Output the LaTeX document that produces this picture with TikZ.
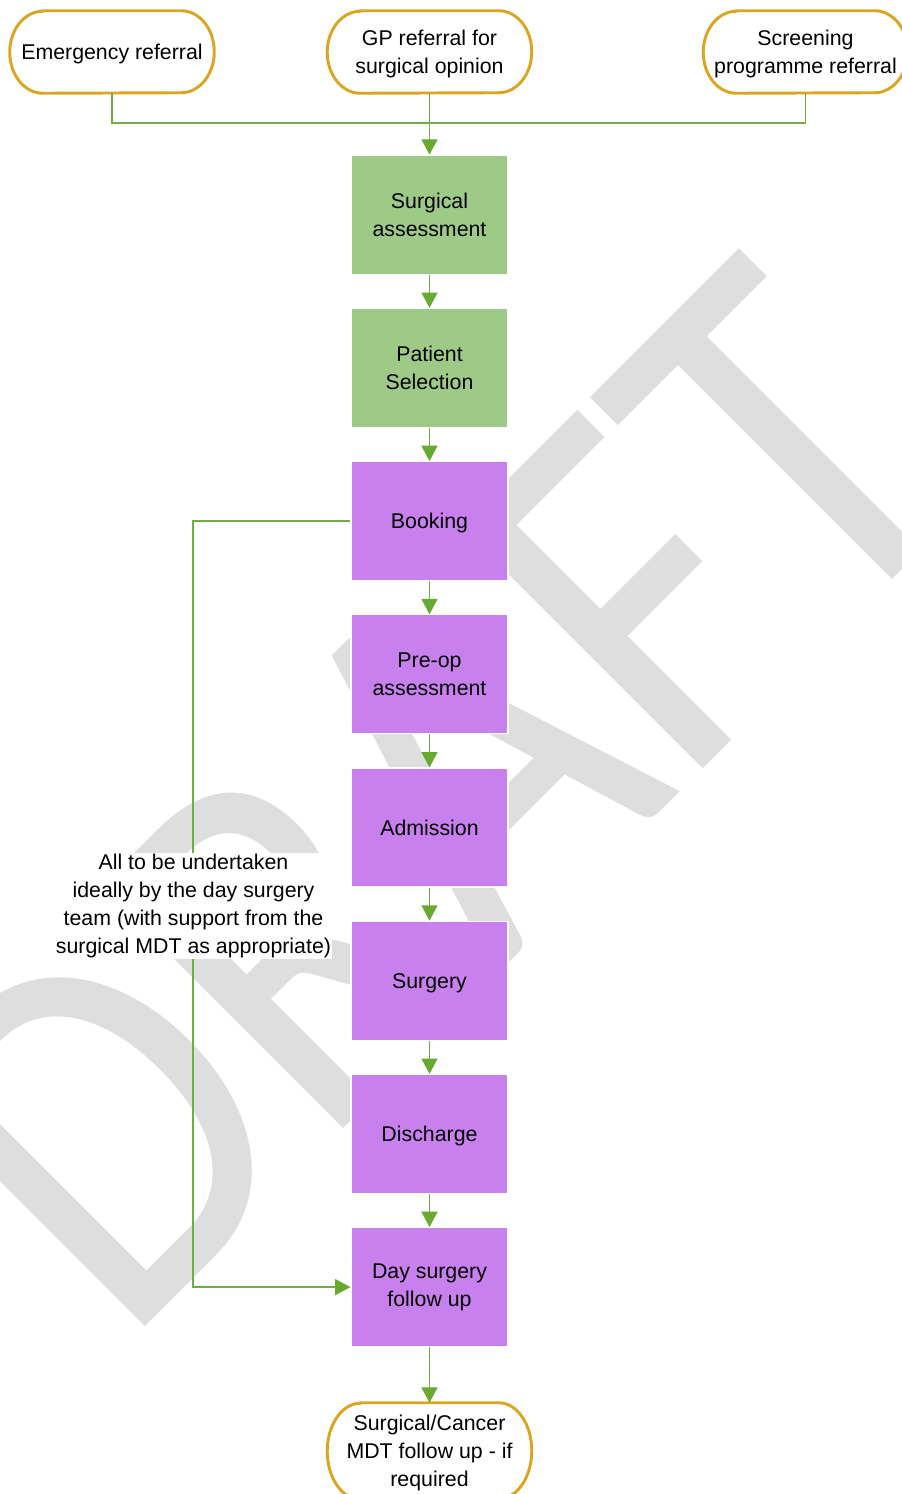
\documentclass[tikz,border=0pt]{standalone}
\usepackage{fontspec}
\setmainfont{Liberation Sans}
\newfontfamily\wmfont{Carlito}
\usetikzlibrary{arrows.meta,calc}
\definecolor{termorange}{RGB}{218,165,32}
\definecolor{conngreen}{RGB}{112,173,71}
\definecolor{arrowgreen}{RGB}{104,170,48}
\definecolor{boxgreen}{RGB}{158,202,136}
\definecolor{boxpurple}{RGB}{200,128,238}
\definecolor{wmgray}{RGB}{222,222,222}
\pgfdeclarelayer{wmlayer}
\pgfdeclarelayer{outlinelayer}
\pgfsetlayers{wmlayer,outlinelayer,main}
\newcommand\termoutline[2]{%
  \path[termline] ($(#1.north west)+(33,0)$) -- ($(#1.north east)+(-33,0)$)
    arc[start angle=90,end angle=-90,x radius=24.75pt,y radius=#2]
    -- ($(#1.south west)+(33,0)$)
    arc[start angle=270,end angle=90,x radius=24.75pt,y radius=#2] -- cycle;}
\newcommand\lowered[1]{\raisebox{-1.6pt}[\height][\depth]{\begin{tabular}{@{}c@{}}#1\end{tabular}}}
\begin{document}
\begin{tikzpicture}[x=0.75pt,y=-0.75pt,
  every node/.style={font=\fontsize{16}{20.8}\selectfont, inner sep=0pt, align=center},
  stepbox/.style={rectangle, draw=white, line width=0.8pt, minimum width=157*0.75pt, minimum height=119*0.75pt},
  greenbox/.style={stepbox, fill=boxgreen},
  purplebox/.style={stepbox, fill=boxpurple},
  termnode/.style={rectangle, minimum width=204*0.75pt, minimum height=82*0.75pt},
  termline/.style={draw=termorange, fill=white, line width=2.2pt},
  conn/.style={draw=conngreen, line width=1pt},
  arr/.style={conn, -{Triangle[width=12pt,length=11.5pt,color=arrowgreen]}},
]
\useasboundingbox (0,0) rectangle (902,1494);

% watermark
\begin{pgfonlayer}{wmlayer}
\node[font=\wmfont\fontsize{400}{400}\selectfont, text=wmgray, anchor=base west,
      rotate=45, xscale=0.852, transform shape] (wm) at (123.2,1348.8) {DRAFT};
\end{pgfonlayer}

% terminals
\node[termnode] (em) at (112,52) {\lowered{Emergency referral}};
\node[termnode] (gp) at (429.5,52) {\lowered{GP referral for\\surgical opinion}};
\node[termnode] (sc) at (805.5,52) {\lowered{Screening\\programme referral}};
\node[termnode, minimum height=96*0.75pt] (mdt) at (429.5,1451) {\lowered{Surgical/Cancer\\MDT follow up - if\\required}};

\begin{pgfonlayer}{outlinelayer}
\termoutline{em}{30.75pt}
\termoutline{gp}{30.75pt}
\termoutline{sc}{30.75pt}
\termoutline{mdt}{36pt}
\end{pgfonlayer}

% process boxes
\node[greenbox]  (sa) at (429.5,214.7)  {Surgical\\assessment};
\node[greenbox]  (ps) at (429.5,367.9)  {Patient\\Selection};
\node[purplebox] (bk) at (429.5,521.1)  {\lowered{Booking}};
\node[purplebox] (po) at (429.5,674.3)  {Pre-op\\assessment};
\node[purplebox] (ad) at (429.5,827.5)  {Admission};
\node[purplebox] (su) at (429.5,980.7)  {\lowered{Surgery}};
\node[purplebox] (dc) at (429.5,1133.9) {\lowered{Discharge}};
\node[purplebox] (df) at (429.5,1287.1) {Day surgery\\follow up};

% connectors
\coordinate (jn) at (429.5,123);
\draw[conn] (em.south) |- (jn) -| (sc.south);
\draw[arr] (gp.south) -- (sa.north);
\draw[arr] (sa) -- (ps);
\draw[arr] (ps) -- (bk);
\draw[arr] (bk) -- (po);
\draw[arr] (po) -- (ad);
\draw[arr] (ad) -- (su);
\draw[arr] (su) -- (dc);
\draw[arr] (dc) -- (df);
\draw[arr] (df) -- (mdt);
\draw[arr] (bk.west) -- ++(-157.5,0) |- (df.west);

% note
\node[fill=white, inner xsep=1pt, inner ysep=1pt] (note) at (193.5,906)
  {All to be undertaken\\ideally by the day surgery\\team (with support from the\\surgical MDT as appropriate)};
\end{tikzpicture}
\end{document}
